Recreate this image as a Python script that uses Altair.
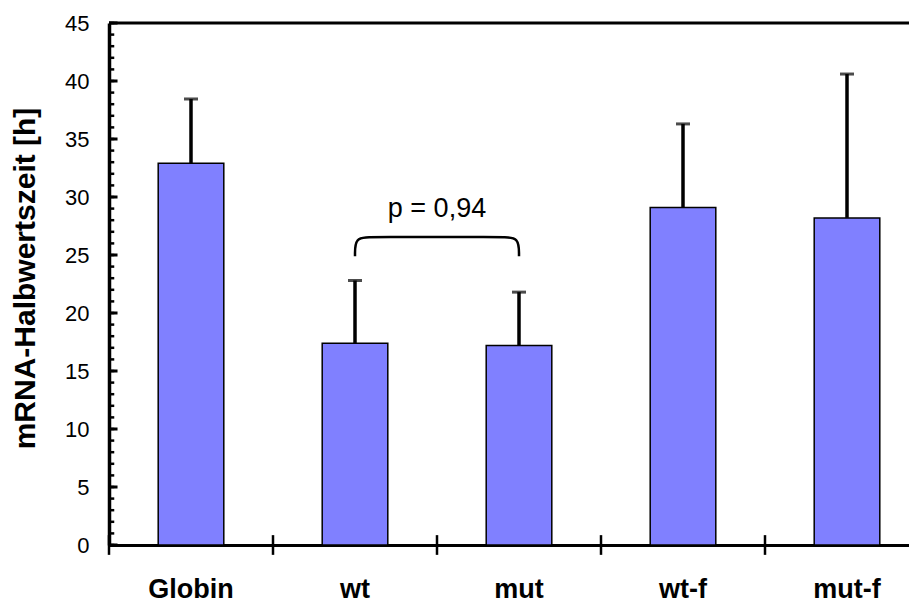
import altair as alt
import pandas as pd

categories = ["Globin", "wt", "mut", "wt-f", "mut-f"]
values = [32.9, 17.4, 17.2, 29.1, 28.2]
errors = [5.55, 5.4, 4.6, 7.2, 12.4]

y_ticks_major = list(range(0, 46, 5))
y_ticks_minor = list(range(0, 46, 1))
x_tick_bounds = [0, 1, 2, 3, 4, 5]

# bracket (annotation) in category units: wt centre = 1.5, mut centre = 2.5
bracket_x = [1.5, 1.5, 1.6, 2.4, 2.5, 2.5]
bracket_y = [24.9, 26.55, 26.55, 26.55, 26.55, 24.9]
p_label = "p = 0,94"
p_pos = (2.0, 29.0)

FONT = "Liberation Sans"
W, H = 800, 522
RANGE = [0, 820]

df = pd.DataFrame({"cat": categories, "val": values, "err": errors})
df["hi"] = df["val"] + df["err"]

xs = alt.Scale(domain=categories, range=RANGE, paddingInner=0.6, paddingOuter=0.3)
ys = alt.Scale(domain=[0, 45], nice=False, zero=True)
bxs = alt.Scale(domain=[0, 5], range=RANGE, nice=False, zero=False)

x_enc = alt.X("cat:N", scale=xs, sort=categories, title=None,
              axis=alt.Axis(labelAngle=0, labelFont=FONT, labelFontSize=27,
                            labelFontWeight="bold", labelColor="black",
                            labelPadding=31, ticks=False, domain=True,
                            domainColor="black", domainWidth=3, grid=False))
y_enc = alt.Y("val:Q", scale=ys,
              axis=alt.Axis(values=y_ticks_major, labelFont=FONT, labelFontSize=22,
                            labelColor="black", labelPadding=20, ticks=False,
                            domain=True, domainColor="black", domainWidth=3.5,
                            grid=False, title="mRNA-Halbwertszeit [h]",
                            titleFont=FONT, titleFontSize=30, titleFontWeight="bold",
                            titleColor="black", titleX=-84, titleY=H / 2 - 6,
                            titleBaseline="middle", titleAngle=-90))

bars = alt.Chart(df).mark_bar(color="#8080FF", stroke="black", strokeWidth=1.5).encode(
    x=x_enc, y=y_enc)

err_rule = alt.Chart(df).mark_rule(color="black", strokeWidth=3.5).encode(
    x=alt.X("cat:N", scale=xs, sort=categories),
    y=alt.Y("val:Q", scale=ys), y2="hi:Q")

err_cap = alt.Chart(df).mark_tick(color="black", size=14, thickness=3).encode(
    x=alt.X("cat:N", scale=xs, sort=categories),
    y=alt.Y("hi:Q", scale=ys))

top_line = alt.Chart(pd.DataFrame({"v": [45]})).mark_rule(color="black", strokeWidth=3).encode(
    y=alt.Y("v:Q", scale=ys))

inner = alt.layer(bars, err_rule, err_cap, top_line)

# axis decoration: inward y ticks, crossing x ticks at category boundaries
minor = alt.Chart(pd.DataFrame({"v": y_ticks_minor})).mark_rule(color="black", strokeWidth=2.5).encode(
    y=alt.Y("v:Q", scale=ys), x=alt.datum(0, scale=bxs), x2=alt.datum(0.032))
major = alt.Chart(pd.DataFrame({"v": y_ticks_major})).mark_rule(color="black", strokeWidth=3).encode(
    y=alt.Y("v:Q", scale=ys), x=alt.datum(0, scale=bxs), x2=alt.datum(0.052))
xticks = alt.Chart(pd.DataFrame({"b": x_tick_bounds})).mark_rule(color="black", strokeWidth=2.5).encode(
    x=alt.X("b:Q", scale=bxs, axis=None),
    y=alt.datum(-0.85, scale=ys), y2=alt.datum(0.85))

bdf = pd.DataFrame({"bx": bracket_x, "by": bracket_y, "o": list(range(len(bracket_x)))})
bracket = alt.Chart(bdf).mark_line(color="black", strokeWidth=2.5, interpolate="basis").encode(
    x=alt.X("bx:Q", scale=bxs, axis=None),
    y=alt.Y("by:Q", scale=ys),
    order="o:O")

ptext = alt.Chart(pd.DataFrame({"bx": [p_pos[0]], "by": [p_pos[1]], "t": [p_label]})).mark_text(
    font=FONT, fontSize=27, color="black", baseline="middle", align="center").encode(
    x=alt.X("bx:Q", scale=bxs, axis=None),
    y=alt.Y("by:Q", scale=ys),
    text="t:N")

outer = alt.layer(bracket, ptext, xticks, minor, major)

chart = alt.layer(inner, outer).resolve_scale(x="independent").properties(
    width=W, height=H,
    autosize=alt.AutoSizeParams(type="none"),
    padding={"left": 101, "top": 15, "right": 0, "bottom": 60},
).configure_view(stroke=None).configure(background="white")

chart.save("out.html", embed_options={"renderer": "svg", "actions": False})
